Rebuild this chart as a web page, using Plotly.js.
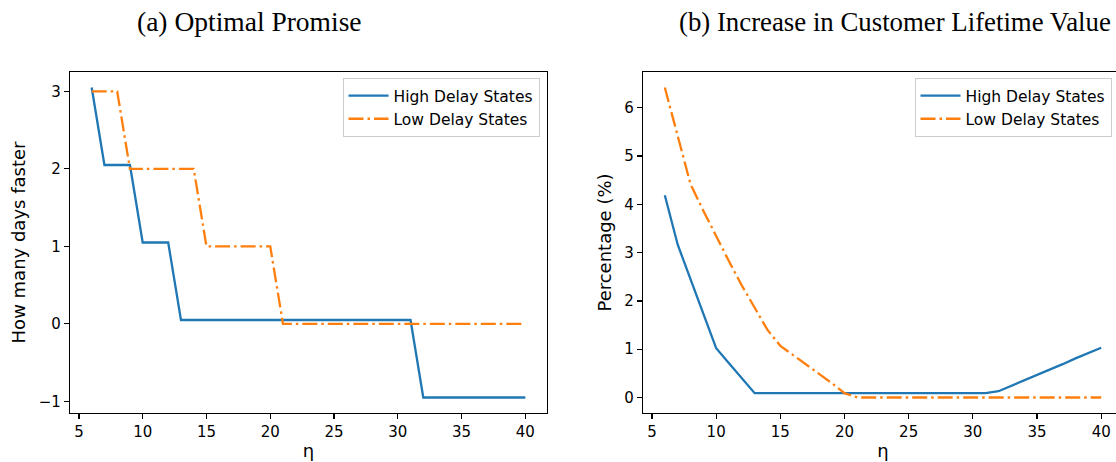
<!DOCTYPE html>
<html>
<head>
<meta charset="utf-8">
<script src="https://cdn.plot.ly/plotly-3.0.1.min.js"></script>
<style>
  html, body { margin: 0; padding: 0; background: #ffffff; overflow: hidden; }
  #chart { width: 1130px; height: 462px; }
</style>
</head>
<body>
<div id="chart"></div>
<script>
// η values (shared x axis for both panels)
const eta = [6,7,8,9,10,11,12,13,14,15,16,17,18,19,20,21,22,23,24,25,26,27,28,29,30,31,32,33,34,35,36,37,38,39,40];

// (a) Optimal Promise: how many days faster
const promiseHigh = [3.05,2.05,2.05,2.05,1.05,1.05,1.05,0.05,0.05,0.05,0.05,0.05,0.05,0.05,0.05,0.05,0.05,0.05,0.05,0.05,0.05,0.05,0.05,0.05,0.05,0.05,-0.95,-0.95,-0.95,-0.95,-0.95,-0.95,-0.95,-0.95,-0.95];
const promiseLow  = [3,3,3,2,2,2,2,2,2,1,1,1,1,1,1,0,0,0,0,0,0,0,0,0,0,0,0,0,0,0,0,0,0,0,0];

// (b) Increase in Customer Lifetime Value (%)
const clvHigh = [4.19,3.17,2.45,1.74,1.02,0.71,0.39,0.09,0.09,0.09,0.09,0.09,0.09,0.09,0.09,0.09,0.09,0.09,0.09,0.09,0.09,0.09,0.09,0.09,0.09,0.09,0.13,0.24,0.35,0.47,0.58,0.69,0.81,0.92,1.03];
const clvLow  = [6.42,5.42,4.42,3.87,3.34,2.82,2.32,1.86,1.40,1.07,0.88,0.68,0.49,0.30,0.09,0,0,0,0,0,0,0,0,0,0,0,0,0,0,0,0,0,0,0,0];

const seriesNames = ['High Delay States', 'Low Delay States'];
const panelTitles = ['(a) Optimal Promise', '(b) Increase in Customer Lifetime Value'];
const xTicks = [5,10,15,20,25,30,35,40];
const yTicksA = [-1,0,1,2,3];
const yTicksB = [0,1,2,3,4,5,6];

const BLUE = '#1f77b4', ORANGE = '#ff7f0e';
const LW = 2.3;
const DASHDOT = '15px,4px,2.5px,4px';
const SANS = 'DejaVu Sans, sans-serif';

const traces = [
  {x: eta, y: promiseHigh, name: seriesNames[0], mode: 'lines', xaxis: 'x', yaxis: 'y', legend: 'legend',
   line: {color: BLUE, width: LW}},
  {x: eta, y: promiseLow, name: seriesNames[1], mode: 'lines', xaxis: 'x', yaxis: 'y', legend: 'legend',
   line: {color: ORANGE, width: LW, dash: DASHDOT}},
  {x: eta, y: clvHigh, name: seriesNames[0], mode: 'lines', xaxis: 'x2', yaxis: 'y2', legend: 'legend2',
   line: {color: BLUE, width: LW}},
  {x: eta, y: clvLow, name: seriesNames[1], mode: 'lines', xaxis: 'x2', yaxis: 'y2', legend: 'legend2',
   line: {color: ORANGE, width: LW, dash: DASHDOT}}
];

const W = 1130, H = 462, ML = 70, MR = 7, MT = 72, MB = 49;
const PW = W - ML - MR, PH = H - MT - MB;
const px2x = p => (p - ML) / PW;
const py2y = p => (H - MB - p) / PH;

function axisBase() {
  return {
    showgrid: false, zeroline: false,
    showline: true, mirror: true, linecolor: '#000000', linewidth: 1.2,
    ticks: 'outside', ticklen: 5, tickwidth: 1.2, tickcolor: '#000000',
    tickfont: {family: SANS, size: 15, color: '#000000'},
    fixedrange: true
  };
}

const xA = Object.assign(axisBase(), {domain: [0, px2x(547)], range: [4.3, 41.7], tickvals: xTicks, anchor: 'y',
  title: {text: 'η', font: {family: SANS, size: 18, color: '#000000'}, standoff: 4}});
const xB = Object.assign(axisBase(), {domain: [px2x(643), 1], range: [4.3, 41.7], tickvals: xTicks, anchor: 'y2',
  title: {text: 'η', font: {family: SANS, size: 18, color: '#000000'}, standoff: 4}});
const yA = Object.assign(axisBase(), {domain: [0, 1], range: [-1.15, 3.25], tickvals: yTicksA, anchor: 'x',
  title: {text: 'How many days faster', font: {family: SANS, size: 18, color: '#000000'}, standoff: 8}});
const yB = Object.assign(axisBase(), {domain: [0, 1], range: [-0.321, 6.741], tickvals: yTicksB, anchor: 'x2',
  title: {text: 'Percentage (%)', font: {family: SANS, size: 18, color: '#000000'}, standoff: 8}});

function legendAt(rightPx) {
  return {
    x: px2x(rightPx), xanchor: 'right', y: py2y(78), yanchor: 'top',
    bgcolor: 'rgba(255,255,255,0.8)', bordercolor: '#cccccc', borderwidth: 1,
    font: {family: SANS, size: 15.5, color: '#000000'},
    itemwidth: 40,
    tracegroupgap: 0
  };
}

const layout = {
  width: W, height: H,
  margin: {l: ML, r: MR, t: MT, b: MB, pad: 0},
  paper_bgcolor: '#ffffff', plot_bgcolor: '#ffffff',
  showlegend: true,
  xaxis: xA, yaxis: yA, xaxis2: xB, yaxis2: yB,
  legend: legendAt(539.5),
  legend2: legendAt(1111.5),
  annotations: [
    {text: panelTitles[0], xref: 'paper', yref: 'paper', x: px2x(249.5), y: py2y(22), xanchor: 'center', yanchor: 'middle',
     showarrow: false, font: {family: 'Liberation Serif, serif', size: 27.5, color: '#000000'}},
    {text: panelTitles[1], xref: 'paper', yref: 'paper', x: px2x(895), y: py2y(22), xanchor: 'center', yanchor: 'middle',
     showarrow: false, font: {family: 'Liberation Serif, serif', size: 26.8, color: '#000000'}}
  ]
};

Plotly.newPlot('chart', traces, layout, {staticPlot: true, displayModeBar: false});
</script>
</body>
</html>
